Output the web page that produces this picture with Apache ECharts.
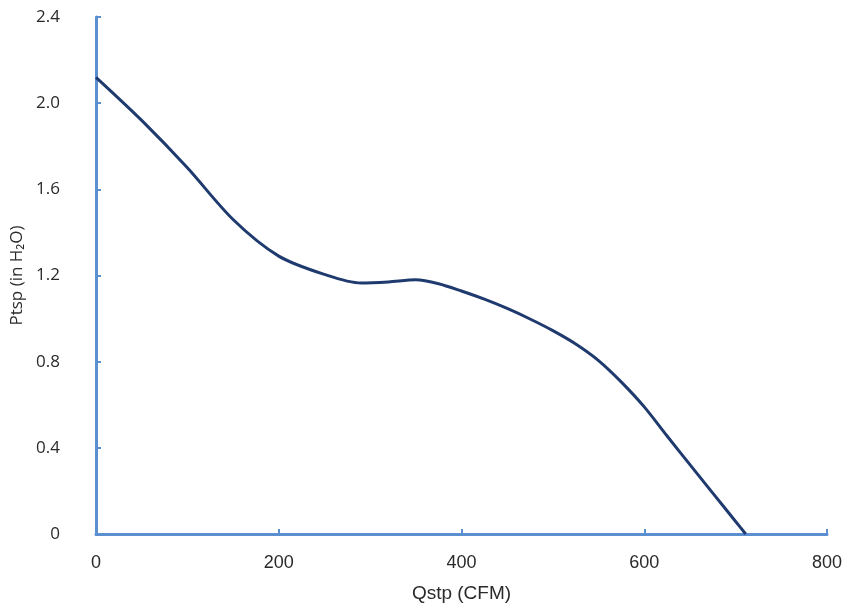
<!DOCTYPE html>
<html>
<head>
<meta charset="utf-8">
<script src="https://cdn.jsdelivr.net/npm/echarts@6/dist/echarts.min.js"></script>
<style>
  html, body { margin: 0; padding: 0; background: #fff; }
  #fanCurve { width: 846px; height: 609px; }
</style>
</head>
<body>
<div id="fanCurve"></div>
<script>
// flow (CFM) vs static pressure (in H2O)
var flowCfm = [0, 50, 100, 150, 200, 250, 290, 320, 350, 375, 400, 425, 450, 475, 500, 525, 550, 575, 600, 625, 650, 675, 700, 711];
var pressureInH2O = [2.12, 1.92, 1.70, 1.46, 1.29, 1.205, 1.165, 1.17, 1.18, 1.162, 1.128, 1.09, 1.047, 0.998, 0.944, 0.882, 0.805, 0.705, 0.59, 0.455, 0.322, 0.19, 0.058, 0];
var xTicks = [0, 200, 400, 600, 800];
var yTicks = [0, 0.4, 0.8, 1.2, 1.6, 2.0, 2.4];

var axisBlue = "#5b8fd0";
var curveData = flowCfm.map(function (q, i) { return [q, pressureInH2O[i]]; });

var chart = echarts.init(document.getElementById("fanCurve"));
chart.setOption({
  animation: false,
  grid: { left: 96, right: 19, top: 17, bottom: 75 },
  xAxis: {
    type: "value",
    min: xTicks[0],
    max: xTicks[xTicks.length - 1],
    interval: 200,
    name: "Qstp (CFM)",
    nameLocation: "middle",
    nameGap: 50,
    nameTextStyle: { fontFamily: "Liberation Sans", fontSize: 19, color: "#2a2a2a" },
    axisLine: { lineStyle: { color: axisBlue, width: 3 } },
    axisTick: { inside: true, length: 5, lineStyle: { color: axisBlue, width: 2 } },
    axisLabel: { margin: 20, fontFamily: "Liberation Sans", fontSize: 18, color: "#2a2a2a" },
    splitLine: { show: false }
  },
  yAxis: {
    type: "value",
    min: yTicks[0],
    max: yTicks[yTicks.length - 1],
    interval: 0.4,
    name: "Ptsp (in H\u2082O)",
    nameLocation: "middle",
    nameGap: 70,
    nameTextStyle: { fontFamily: "Open Sans", fontSize: 17, color: "#2a2a2a" },
    axisLine: { show: true, lineStyle: { color: axisBlue, width: 3 } },
    axisTick: { show: true, inside: true, length: 5, lineStyle: { color: axisBlue, width: 2 } },
    axisLabel: {
      margin: 36,
      fontFamily: "Open Sans",
      fontSize: 17,
      color: "#2a2a2a",
      formatter: function (v) { return v === 0 ? "0" : v.toFixed(1); }
    },
    splitLine: { show: false }
  },
  series: [{
    type: "line",
    data: curveData,
    smooth: 0.3,
    symbol: "none",
    lineStyle: { color: "#1f3a6e", width: 3 }
  }]
});
</script>
</body>
</html>
